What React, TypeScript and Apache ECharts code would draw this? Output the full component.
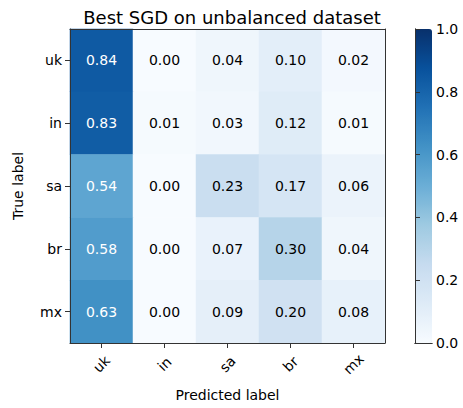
import React, { useEffect, useRef } from "react";
import * as echarts from "echarts";

const predictedLabels = ["uk", "in", "sa", "br", "mx"];
const trueLabels = ["uk", "in", "sa", "br", "mx"];
const rowUk = [0.84, 0.0, 0.04, 0.1, 0.02];
const rowIn = [0.83, 0.01, 0.03, 0.12, 0.01];
const rowSa = [0.54, 0.0, 0.23, 0.17, 0.06];
const rowBr = [0.58, 0.0, 0.07, 0.3, 0.04];
const rowMx = [0.63, 0.0, 0.09, 0.2, 0.08];
const rows = [rowUk, rowIn, rowSa, rowBr, rowMx];
const colorbarTicks = [0, 0.2, 0.4, 0.6, 0.8, 1.0];

const blues = ["#f7fbff", "#deebf7", "#c6dbef", "#9ecae1", "#6baed6", "#4292c6", "#2171b5", "#08519c", "#08306b"];
const FONT = "DejaVu Sans";
const LINE = "#333";

export default function App() {
  const ref = useRef<HTMLDivElement>(null);
  useEffect(() => {
    if (!ref.current) return;
    const chart = echarts.init(ref.current, null, { renderer: "svg" });
    const maxVal = Math.max(...rows.flat());
    const thresh = maxVal / 2;
    const data: any[] = [];
    rows.forEach((row, yi) => {
      row.forEach((v, xi) => {
        data.push({
          value: [xi, yi, v],
          label: { color: v > thresh ? "#fff" : "#000" },
        });
      });
    });
    const lineOnly = { show: true, lineStyle: { color: LINE, width: 1 } };
    chart.setOption({
      animation: false,
      textStyle: { fontFamily: FONT },
      title: {
        text: "Best SGD on unbalanced dataset",
        left: 227,
        textAlign: "center",
        top: 3,
        textStyle: { fontFamily: FONT, fontSize: 18, fontWeight: "normal", color: "#000" },
      },
      grid: [
        { left: 70, top: 29, width: 315, height: 314 },
        { left: 415, top: 29, width: 17, height: 314 },
      ],
      visualMap: {
        type: "continuous",
        min: 0,
        max: 1,
        seriesIndex: 0,
        calculable: false,
        showLabel: false,
        text: null,
        left: 415,
        top: 29,
        padding: 0,
        itemWidth: 17,
        itemHeight: 314,
        z: 1,
        inRange: { color: blues },
      },
      xAxis: [
        {
          type: "category",
          gridIndex: 0,
          data: predictedLabels,
          position: "bottom",
          z: 10,
          axisLine: lineOnly,
          axisTick: { show: true, alignWithLabel: true, length: 5, lineStyle: { color: LINE } },
          axisLabel: {
            rotate: 45,
            align: "center",
            verticalAlign: "middle",
            margin: 21,
            fontSize: 14,
            color: "#000",
            fontFamily: FONT,
          },
          splitLine: { show: false },
          name: "Predicted label",
          nameLocation: "middle",
          nameGap: 45,
          nameTextStyle: { fontSize: 14, color: "#000", fontFamily: FONT },
        },
        {
          type: "category",
          gridIndex: 0,
          data: predictedLabels,
          position: "top",
          z: 10,
          axisLine: lineOnly,
          axisTick: { show: false },
          axisLabel: { show: false },
        },
        {
          type: "value",
          gridIndex: 1,
          min: 0,
          max: 1,
          position: "bottom",
          z: 10,
          axisLine: lineOnly,
          axisTick: { show: false },
          axisLabel: { show: false },
          splitLine: { show: false },
        },
        {
          type: "value",
          gridIndex: 1,
          min: 0,
          max: 1,
          position: "top",
          z: 10,
          axisLine: lineOnly,
          axisTick: { show: false },
          axisLabel: { show: false },
          splitLine: { show: false },
        },
      ],
      yAxis: [
        {
          type: "category",
          gridIndex: 0,
          data: trueLabels,
          inverse: true,
          position: "left",
          z: 10,
          axisLine: lineOnly,
          axisTick: { show: true, alignWithLabel: true, length: 5, lineStyle: { color: LINE } },
          axisLabel: { fontSize: 14, color: "#000", margin: 8, fontFamily: FONT },
          name: "True label",
          nameLocation: "middle",
          nameGap: 45,
          nameTextStyle: { fontSize: 14, color: "#000", fontFamily: FONT },
        },
        {
          type: "category",
          gridIndex: 0,
          data: trueLabels,
          inverse: true,
          position: "right",
          z: 10,
          axisLine: lineOnly,
          axisTick: { show: false },
          axisLabel: { show: false },
        },
        {
          type: "value",
          gridIndex: 1,
          min: 0,
          max: 1,
          position: "left",
          z: 10,
          axisLine: lineOnly,
          axisTick: { show: false },
          axisLabel: { show: false },
          splitLine: { show: false },
        },
        {
          type: "value",
          gridIndex: 1,
          min: 0,
          max: 1,
          interval: 0.2,
          position: "right",
          z: 10,
          axisLine: lineOnly,
          axisTick: { show: true, inside: false, length: 5, lineStyle: { color: LINE } },
          axisLabel: {
            fontSize: 14,
            color: "#000",
            margin: 4,
            fontFamily: FONT,
            formatter: (v: number) => v.toFixed(1),
            customValues: colorbarTicks,
          },
          splitLine: { show: false },
        },
      ],
      series: [
        {
          type: "heatmap",
          xAxisIndex: 0,
          yAxisIndex: 0,
          data,
          label: {
            show: true,
            fontSize: 14,
            fontFamily: FONT,
            formatter: (p: any) => p.value[2].toFixed(2),
          },
          emphasis: { disabled: true },
        },
      ],
    });
    return () => chart.dispose();
  }, []);
  return <div ref={ref} style={{ width: 463, height: 408, position: "absolute", left: 0, top: 0 }} />;
}
